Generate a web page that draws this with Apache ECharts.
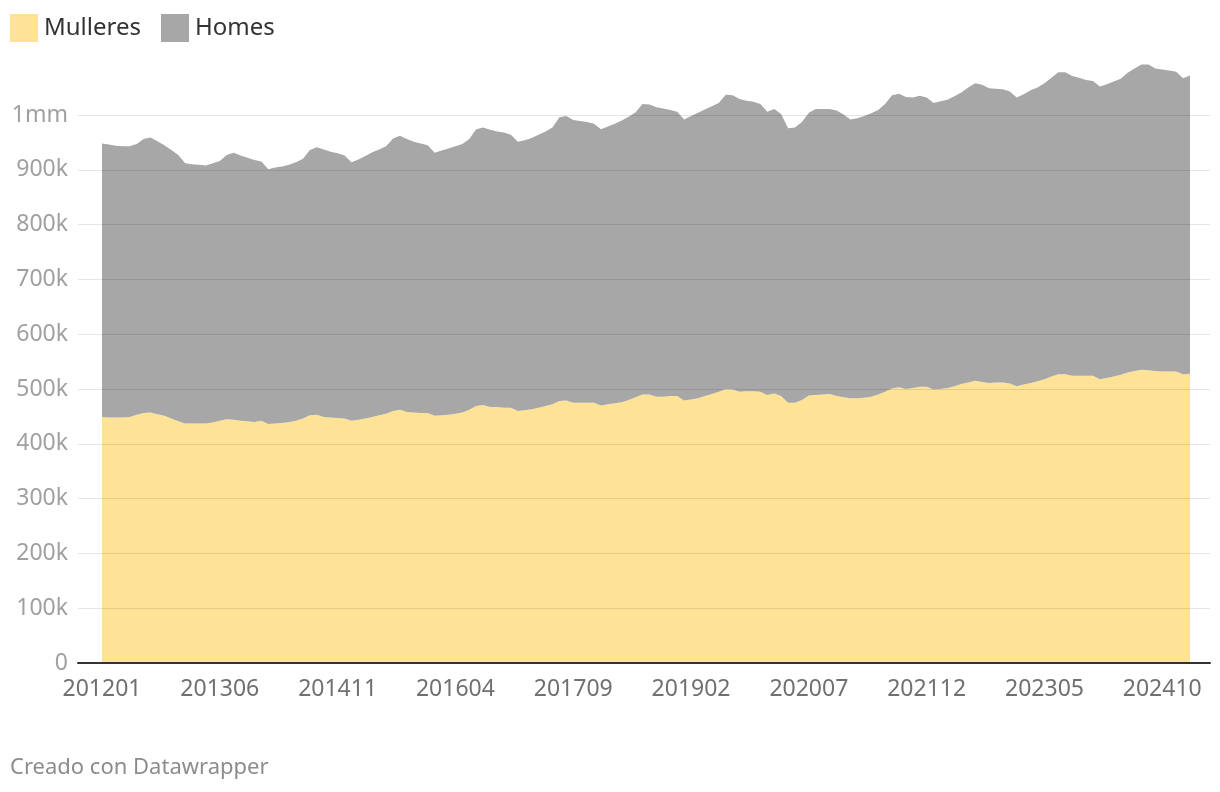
<!DOCTYPE html>
<html>
<head>
<meta charset="utf-8">
<script src="https://cdn.jsdelivr.net/npm/echarts@6/dist/echarts.min.js"></script>
<style>
html,body{margin:0;padding:0;background:#fff;}
#chart{width:1220px;height:792px;}
</style>
</head>
<body>
<div id="chart"></div>
<script>
// monthly categories 201201 .. 202502
const startYear = 2012, monthCount = 158;
const categories = [];
for (let i = 0; i < monthCount; i++) {
  const y = startYear + Math.floor(i / 12), m = (i % 12) + 1;
  categories.push(String(y) + (m < 10 ? '0' : '') + m);
}

// values in thousands
const mulleres = [
  449,448,448,448,449,453,456,457,454,451,446,441,
  437,437,437,437,439,442,445,444,442,441,440,442,
  436,437,438,440,442,446,452,453,449,448,447,446,
  442,444,446,449,452,455,460,462,458,457,456,456,
  451,452,453,455,457,462,469,471,467,467,466,466,
  460,461,463,466,469,472,478,479,475,475,475,475,
  470,472,474,476,480,485,490,490,486,486,487,487,
  479,481,483,487,491,495,500,499,495,496,496,495,
  489,492,487,475,475,480,488,489,490,491,487,485,
  483,483,484,486,490,495,501,503,500,502,504,504,
  499,500,502,505,509,512,515,513,511,512,512,510,
  505,508,511,514,518,523,527,527,524,524,524,524,
  518,520,523,526,530,533,535,534,533,532,532,532,
  527,528
];
const homes = [
  499,498,496,495,494,494,500,502,498,494,490,486,
  475,473,472,471,473,474,482,487,484,481,478,473,
  465,467,468,469,472,474,484,488,488,485,483,480,
  472,475,479,483,485,488,497,500,498,494,492,489,
  480,483,486,488,490,494,505,506,506,503,502,498,
  491,493,495,498,501,505,518,519,516,514,512,509,
  504,507,510,514,517,520,530,529,528,526,522,519,
  513,517,521,523,525,527,537,537,534,530,528,525,
  517,519,515,501,502,507,516,522,521,520,521,516,
  509,511,514,517,519,525,535,536,533,530,531,528,
  523,525,526,529,532,538,543,542,538,536,535,533,
  527,530,534,536,540,545,551,551,547,544,540,538,
  534,536,538,540,547,552,557,558,552,551,549,547,
  540,544
];

const seriesNames = ['Mulleres', 'Homes'];
const seriesColors = ['#fee396', '#a7a7a7'];

const FONT = 'Noto Sans';
const chart = echarts.init(document.getElementById('chart'), null, {renderer: 'canvas'});
chart.setOption({
  animation: false,
  backgroundColor: '#ffffff',
  textStyle: {fontFamily: FONT},
  legend: {
    left: 10, top: 14, padding: 0,
    itemWidth: 28, itemHeight: 28, itemGap: 20,
    icon: 'rect',
    data: seriesNames,
    textStyle: {fontFamily: FONT, fontSize: 24, color: '#333333', padding: [0, 0, 0, 1]}
  },
  graphic: [{
    type: 'text', left: 10, top: 757,
    style: {text: 'Creado con Datawrapper', fontFamily: FONT, fontSize: 22, fill: '#8c8c8c'}
  }],
  grid: [
    {left: 78, right: 10, top: 115, bottom: 129},
    {left: 102, right: 30, top: 60.2, bottom: 129}
  ],
  xAxis: [
    {type: 'value', gridIndex: 0, min: 0, max: 1, z: 6,
      axisLine: {show: true, onZero: false, lineStyle: {color: '#333333', width: 2}},
      axisTick: {show: false}, axisLabel: {show: false}, splitLine: {show: false}},
    {type: 'category', gridIndex: 1, data: categories, boundaryGap: false,
      axisLine: {show: false}, axisTick: {show: false}, splitLine: {show: false},
      axisLabel: {interval: 16, color: '#707070', fontSize: 23, fontFamily: FONT, margin: 15}}
  ],
  yAxis: [
    {type: 'value', gridIndex: 0, min: 0, max: 1000, interval: 100, z: 5,
      axisLine: {show: false}, axisTick: {show: false},
      splitLine: {show: true, lineStyle: {color: 'rgba(0,0,0,0.1)', width: 1}},
      axisLabel: {color: '#a0a0a0', fontSize: 23, fontFamily: FONT, margin: 10,
        formatter: v => v === 0 ? '0' : (v >= 1000 ? '1mm' : v + 'k')}},
    {type: 'value', gridIndex: 1, min: 0, max: 1100, show: false, splitLine: {show: false}}
  ],
  series: [
    {name: seriesNames[0], type: 'line', xAxisIndex: 1, yAxisIndex: 1, stack: 'total',
      data: mulleres, showSymbol: false, symbol: 'none',
      lineStyle: {width: 0}, itemStyle: {color: seriesColors[0]},
      areaStyle: {color: seriesColors[0], opacity: 1}},
    {name: seriesNames[1], type: 'line', xAxisIndex: 1, yAxisIndex: 1, stack: 'total',
      data: homes, showSymbol: false, symbol: 'none',
      lineStyle: {width: 0}, itemStyle: {color: seriesColors[1]},
      areaStyle: {color: seriesColors[1], opacity: 1}}
  ]
});
</script>
</body>
</html>
